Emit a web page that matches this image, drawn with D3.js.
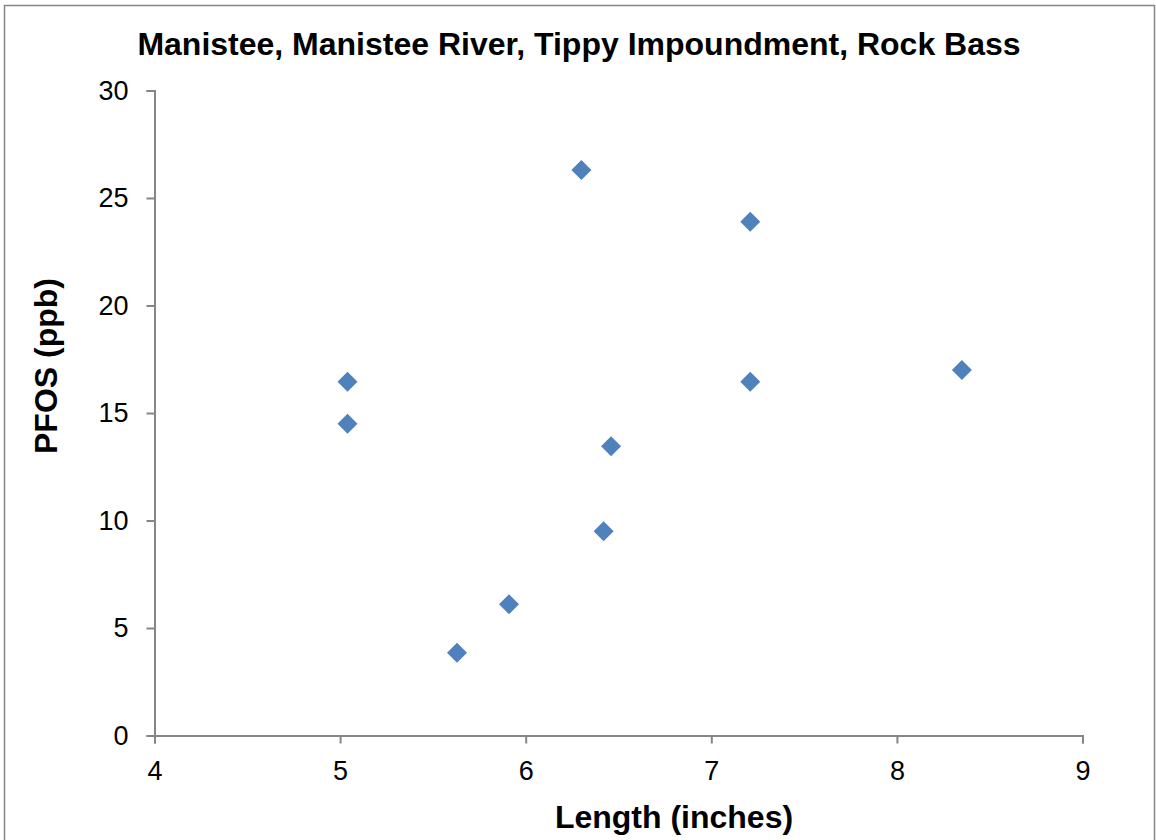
<!DOCTYPE html>
<html>
<head>
<meta charset="utf-8">
<script src="https://cdn.jsdelivr.net/npm/d3@7"></script>
<style>
body { margin: 0; background: #fff; }
svg { display: block; font-family: "Liberation Sans", Arial, sans-serif; }
</style>
</head>
<body>
<svg id="chart" width="1156" height="840"></svg>
<script>
const lengths = [5.04, 5.04, 6.30, 7.21, 7.21, 8.35, 6.46, 6.42, 5.91, 5.63];
const pfos    = [16.45, 14.5, 26.3, 23.9, 16.45, 17.0, 13.45, 9.5, 6.1, 3.85];
const xTicks = [4, 5, 6, 7, 8, 9];
const yTicks = [0, 5, 10, 15, 20, 25, 30];
const title = "Manistee, Manistee River, Tippy Impoundment, Rock Bass";
const xLabel = "Length (inches)";
const yLabel = "PFOS (ppb)";

const svg = d3.select("#chart");
const plot = { left: 154.5, right: 1082.5, top: 90.5, bottom: 735.5 };

svg.append("rect").attr("x", 4.5).attr("y", 5.5).attr("width", 1150).attr("height", 840)
  .attr("fill", "#fff").attr("stroke", "#868686").attr("stroke-width", 1.5);

const x = d3.scaleLinear().domain([4, 9]).range([plot.left, plot.right]);
const y = d3.scaleLinear().domain([0, 30]).range([plot.bottom, plot.top]);

const xAxis = svg.append("g").attr("transform", `translate(0,${plot.bottom})`)
  .call(d3.axisBottom(x).tickValues(xTicks).tickSize(8).tickPadding(17).tickFormat(d3.format("d")));
const yAxis = svg.append("g").attr("transform", `translate(${plot.left},0)`)
  .call(d3.axisLeft(y).tickValues(yTicks).tickSize(8).tickPadding(18).tickFormat(d3.format("d")));

[xAxis, yAxis].forEach(g => {
  g.select(".domain").attr("stroke", "#868686").attr("stroke-width", 2);
  g.selectAll(".tick line").attr("stroke", "#868686").attr("stroke-width", 2);
  g.selectAll(".tick text").attr("fill", "#000").style("font-size", "27px")
    .style("font-family", "'Liberation Sans', Arial, sans-serif");
});

const pts = lengths.map((v, i) => ({ x: v, y: pfos[i] }));
const sym = d3.symbol().type(d3.symbolSquare).size(200);
svg.append("g").selectAll("path").data(pts).join("path")
  .attr("d", sym)
  .attr("transform", d => `translate(${x(d.x)},${y(d.y)}) rotate(45)`)
  .attr("fill", "#4F81BD");

svg.append("text").attr("x", 579).attr("y", 55).attr("text-anchor", "middle")
  .style("font-size", "32px").style("font-weight", "bold").text(title);

svg.append("text").attr("x", 674).attr("y", 828).attr("text-anchor", "middle")
  .style("font-size", "32px").style("font-weight", "bold").text(xLabel);

svg.append("text").attr("transform", "translate(57,366) rotate(-90)").attr("text-anchor", "middle")
  .style("font-size", "32px").style("font-weight", "bold").text(yLabel);
</script>
</body>
</html>
